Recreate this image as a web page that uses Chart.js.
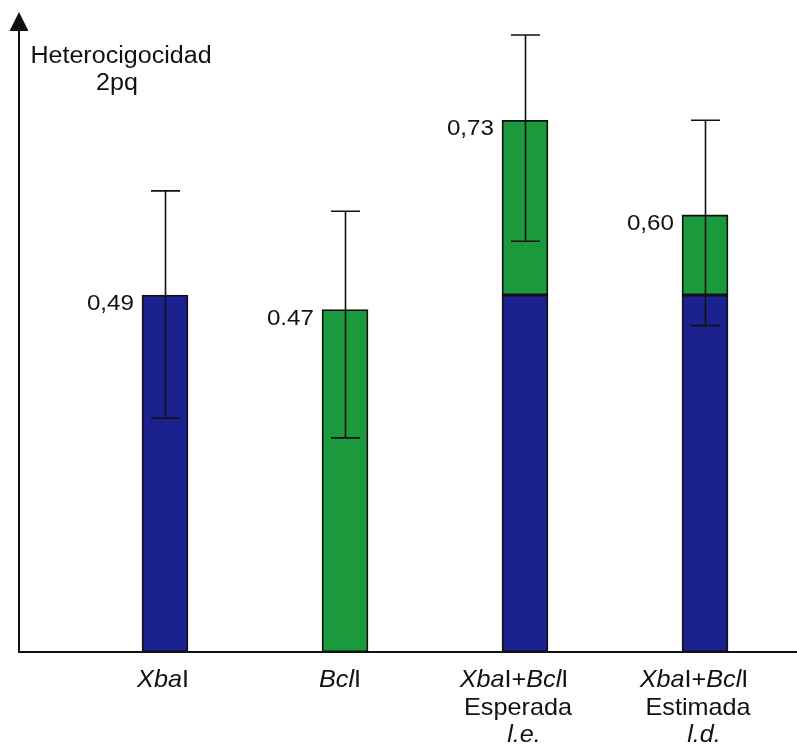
<!DOCTYPE html>
<html>
<head>
<meta charset="utf-8">
<script src="https://cdn.jsdelivr.net/npm/chart.js@4/dist/chart.umd.min.js"></script>
<style>
  html, body { margin: 0; padding: 0; background: #ffffff; }
  #wrap { width: 797px; height: 750px; }
</style>
</head>
<body>
<div id="wrap"><canvas id="chart" width="797" height="750"></canvas></div>
<script>
// Heterozygosity (2pq) per restriction site and for the combined haplotype
const categories = ['XbaI', 'BclI', 'XbaI+BclI Esperada', 'XbaI+BclI Estimada'];
const xbaValues = [0.49, null, 0.49, 0.49];          // XbaI part (blue)
const bclBase   = [null, 0, 0.49, 0.49];             // where the BclI part starts
const totals    = [0.49, 0.47, 0.73, 0.60];          // bar heights as labelled
const valueLabels = ['0,49', '0.47', '0,73', '0,60'];
const errLow  = [0.321, 0.294, 0.564, 0.448];
const errHigh = [0.633, 0.605, 0.847, 0.730];

// Axis label lines; each line is a list of [text, italic] pieces
const tickLines = [
  [[['Xba', true], ['I', false]]],
  [[['Bcl', true], ['I', false]]],
  [[['Xba', true], ['I+', false], ['Bcl', true], ['I', false]], [['Esperada', false]], [['l.e.', true]]],
  [[['Xba', true], ['I+', false], ['Bcl', true], ['I', false]], [['Estimada', false]], [['l.d.', true]]]
];

const BLUE = '#1c2190';
const GREEN = '#1a9a3c';
const FAMILY = '"Liberation Sans", Arial, Helvetica, sans-serif';

const bclData = bclBase.map((b, i) => (b === null ? null : [b, totals[i]]));

function font(size, italic) {
  return (italic ? 'italic ' : '') + size + 'px ' + FAMILY;
}

function drawScaled(ctx, text, x, y, size, italic, sx, align) {
  ctx.font = font(size, italic);
  const w = ctx.measureText(text).width * sx;
  let left = x;
  if (align === 'right') left = x - w;
  else if (align === 'center') left = x - w / 2;
  ctx.save();
  ctx.translate(left, y);
  ctx.scale(sx, 1);
  ctx.textAlign = 'left';
  ctx.textBaseline = 'alphabetic';
  ctx.fillText(text, 0, 0);
  ctx.restore();
}

function drawPieces(ctx, pieces, cx, y, size, sx) {
  let total = 0;
  pieces.forEach(([t, it]) => { ctx.font = font(size, it); total += ctx.measureText(t).width * sx; });
  let x = cx - total / 2;
  pieces.forEach(([t, it]) => {
    ctx.font = font(size, it);
    const w = ctx.measureText(t).width * sx;
    drawScaled(ctx, t, x, y, size, it, sx, 'left');
    x += w;
  });
}

const decorations = {
  id: 'decorations',
  afterDatasetsDraw(chart) {
    const ctx = chart.ctx;
    const xs = chart.scales.x;
    const ys = chart.scales.y;
    ctx.save();
    ctx.fillStyle = '#111111';
    ctx.strokeStyle = '#111111';

    // error bars
    ctx.lineWidth = 1.6;
    categories.forEach((c, i) => {
      const x = Math.round(xs.getPixelForValue(i)) + 0.5;
      const yTop = ys.getPixelForValue(errHigh[i]);
      const yBot = ys.getPixelForValue(errLow[i]);
      ctx.beginPath();
      ctx.moveTo(x, yTop); ctx.lineTo(x, yBot);
      ctx.moveTo(x - 14.5, yTop); ctx.lineTo(x + 14.5, yTop);
      ctx.moveTo(x - 14.5, yBot); ctx.lineTo(x + 14.5, yBot);
      ctx.stroke();
    });

    // value labels beside each bar top
    categories.forEach((c, i) => {
      const meta = chart.getDatasetMeta(i === 0 ? 0 : 1).data[i];
      const left = meta.x - meta.width / 2;
      const yTop = ys.getPixelForValue(totals[i]);
      drawScaled(ctx, valueLabels[i], left - 8, yTop + 15, 22, false, 1.1, 'right');
    });

    // axes with arrow on the vertical one
    ctx.lineWidth = 2;
    const base = ys.getPixelForValue(0);
    ctx.beginPath();
    ctx.moveTo(19, 28); ctx.lineTo(19, base + 1);
    ctx.moveTo(18, base); ctx.lineTo(797, base);
    ctx.stroke();
    ctx.beginPath();
    ctx.moveTo(19, 12); ctx.lineTo(28.5, 31); ctx.lineTo(9.5, 31);
    ctx.closePath();
    ctx.fill();

    // axis title
    drawScaled(ctx, 'Heterocigocidad', 121, 63, 23, false, 1.09, 'center');
    drawScaled(ctx, '2pq', 117, 90, 23, false, 1.09, 'center');

    // category labels; the wider first lines sit a little left of centre
    const lineShift = [-9, -5, 1];
    categories.forEach((c, i) => {
      const cx = xs.getPixelForValue(i) - 2;
      const lines = tickLines[i];
      lines.forEach((pieces, k) => {
        const dx = lines.length > 1 ? lineShift[k] : (i === 1 ? -3 : 0);
        drawPieces(ctx, pieces, cx + dx, 687 + k * 27.5, 24, 1.05);
      });
    });
    ctx.restore();
  }
};

new Chart(document.getElementById('chart'), {
  type: 'bar',
  data: {
    labels: categories,
    datasets: [
      {
        label: 'XbaI',
        data: xbaValues,
        backgroundColor: BLUE,
        borderColor: '#111111',
        borderWidth: 1.8,
        borderSkipped: false,
        grouped: false,
        barThickness: 46
      },
      {
        label: 'BclI',
        data: bclData,
        backgroundColor: GREEN,
        borderColor: '#111111',
        borderWidth: 1.8,
        borderSkipped: false,
        grouped: false,
        barThickness: 46
      }
    ]
  },
  options: {
    responsive: false,
    devicePixelRatio: 1,
    animation: false,
    layout: { padding: { left: 75, right: 2, top: 11, bottom: 98 } },
    scales: {
      x: { display: false, offset: true },
      y: { display: false, min: 0, max: 0.88 }
    },
    plugins: {
      legend: { display: false },
      tooltip: { enabled: false }
    }
  },
  plugins: [decorations]
});
</script>
</body>
</html>
